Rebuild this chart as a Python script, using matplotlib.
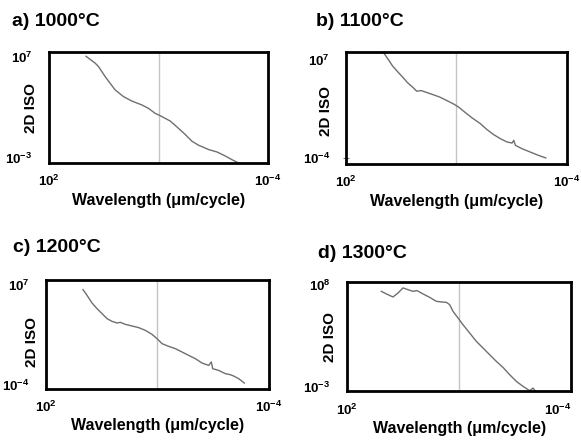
import numpy as np
import matplotlib
matplotlib.use("Agg")
import matplotlib.pyplot as plt

plt.rcParams['font.family'] = ['Liberation Sans', 'DejaVu Sans']
plt.rcParams['font.weight'] = 'bold'
plt.rcParams['mathtext.fontset'] = 'custom'
plt.rcParams['mathtext.rm'] = 'Liberation Sans:bold'
plt.rcParams['mathtext.it'] = 'Liberation Sans:bold'
plt.rcParams['mathtext.bf'] = 'Liberation Sans:bold'

# ---- data (log10 of wavelength in um/cycle, log10 of 2D ISO) ----
titles = ["a) 1000\u00b0C", "b) 1100\u00b0C", "c) 1200\u00b0C", "d) 1300\u00b0C"]

a_logw = [0.985, 0.738, 0.646, 0.463, 0.326, 0.189, -0.040, -0.268, -0.543, -0.726,
          -0.909, -1.046, -1.320, -1.503, -1.732, -1.915, -2.098, -2.372, -2.601,
          -2.829, -3.012, -3.195]
a_logy = [7.07, 6.40, 6.06, 5.06, 4.39, 3.73, 3.06, 2.62, 2.23, 1.89,
          1.39, 1.16, 0.63, 0.05, -0.71, -1.38, -1.78, -2.21, -2.45,
          -2.85, -3.22, -3.55]

b_logw = [0.966, 0.829, 0.738, 0.601, 0.463, 0.326, 0.189, 0.079, -0.040, -0.177,
          -0.360, -0.543, -0.726, -0.909, -1.046, -1.229, -1.412, -1.640, -1.823,
          -2.006, -2.189, -2.372, -2.509, -2.555, -2.601, -2.784, -3.012, -3.241, -3.424]
b_logy = [7.68, 6.85, 6.28, 5.64, 5.03, 4.39, 3.90, 3.45, 3.52, 3.33,
          3.07, 2.80, 2.43, 2.05, 1.71, 1.10, 0.50, -0.15, -0.82,
          -1.39, -1.85, -2.22, -2.34, -2.04, -2.60, -2.98, -3.36, -3.74, -4.00]

c_logw = [1.003, 0.895, 0.760, 0.626, 0.491, 0.356, 0.222, 0.087, -0.003, -0.138,
          -0.317, -0.497, -0.677, -0.856, -0.991, -1.126, -1.305, -1.485, -1.665,
          -1.844, -2.024, -2.204, -2.383, -2.455, -2.491, -2.653, -2.832, -2.967,
          -3.057, -3.192, -3.344]
c_logy = [6.49, 5.86, 5.02, 4.40, 3.85, 3.30, 3.00, 2.82, 2.89, 2.67,
          2.49, 2.31, 2.01, 1.57, 1.10, 0.55, 0.25, 0.00, -0.37,
          -0.74, -1.10, -1.58, -1.84, -1.47, -2.20, -2.39, -2.75, -2.86,
          -3.01, -3.30, -3.78]

d_logw = [1.082, 0.948, 0.770, 0.636, 0.502, 0.369, 0.235, 0.128, -0.033, -0.211,
          -0.389, -0.523, -0.657, -0.746, -0.835, -0.969, -1.102, -1.281, -1.459,
          -1.637, -1.816, -1.994, -2.172, -2.351, -2.529, -2.707, -2.886, -2.975, -3.046]
d_logy = [7.31, 7.03, 6.70, 7.13, 7.68, 7.49, 7.31, 7.39, 7.03, 6.66,
          6.23, 6.16, 6.12, 5.87, 5.15, 4.43, 3.70, 2.80, 1.90,
          1.18, 0.45, -0.27, -0.92, -1.71, -2.43, -2.97, -3.44, -3.16, -3.51]

series_w = [a_logw, b_logw, c_logw, d_logw]
series_y = [a_logy, b_logy, c_logy, d_logy]

y_ticks_exp = [(-3, 7), (-4, 7), (-4, 7), (-3, 8)]
x_ticks_exp = (2, -4)
marker_exp = -1

# ---- layout ----
W, H = 581, 440
fig = plt.figure(figsize=(W / 100, H / 100), dpi=100)

boxes = [(49, 268, 52, 163), (346, 567, 52, 164), (46, 268.7, 280.3, 388.7), (347, 571.3, 282, 391.3)]
ylims = [(-3.55, 7.5), (-4.68, 7.83), (-4.40, 7.51), (-3.51, 8.32)]
title_pos = [(12, 22), (316, 22), (13, 247), (318, 253)]
ylabel_pos = [(38, 108), (333, 111), (39, 342), (337, 337)]

for i in range(4):
    x0, x1, y0, y1 = boxes[i]
    ax = fig.add_axes([x0 / W, 1 - y1 / H, (x1 - x0) / W, (y1 - y0) / H])
    ax.axvline(10.0 ** marker_exp, color='#c4c4c4', lw=1.0, zorder=1)
    ax.plot(10.0 ** np.array(series_w[i]), 10.0 ** np.array(series_y[i]),
            color='#6f6f6f', lw=1.0, zorder=2)
    ax.set_xscale('log')
    ax.set_yscale('log')
    ax.set_xlim(10.0 ** x_ticks_exp[0], 10.0 ** x_ticks_exp[1])
    ax.set_ylim(10.0 ** ylims[i][0], 10.0 ** ylims[i][1])
    ax.set_xticks([10.0 ** e for e in x_ticks_exp])
    ax.set_xticklabels([r'$10^{%d}$' % e for e in x_ticks_exp])
    ax.set_yticks([10.0 ** e for e in y_ticks_exp[i]])
    ax.set_yticklabels([r'$10^{%d}$' % e for e in y_ticks_exp[i]])
    ax.minorticks_off()
    ax.tick_params(axis='both', length=0, labelsize=9.5)
    ax.tick_params(axis='y', pad=12)
    ax.tick_params(axis='x', pad=8)
    if i == 1:
        ax.tick_params(axis='y', length=5, direction='inout', width=0.8, color='#777777')
        ax.yaxis.get_major_ticks()[1].tick1line.set_visible(False)
        ax.tick_params(axis='y', pad=9)
    if i == 3:
        ax.get_xticklabels()[1].set_horizontalalignment('right')
        ax.get_xticklabels()[1].set_x(1.0)
    for s in ax.spines.values():
        s.set_linewidth(2.0)
        s.set_color('black')
    ax.set_xlabel("Wavelength (\u03bcm/cycle)", fontsize=11.5, fontweight='bold')
    ax.xaxis.set_label_coords(0.5, -0.27)
    ax.set_ylabel("2D ISO", fontsize=11, fontweight='bold')
    lx, ly = ylabel_pos[i]
    ax.yaxis.set_label_coords(lx / W, 1 - ly / H, transform=fig.transFigure)
    tx, ty = title_pos[i]
    fig.text(tx / W, 1 - ty / H, titles[i], fontsize=14, fontweight='bold',
             ha='left', va='center')

fig.savefig('out.png', dpi=100)
